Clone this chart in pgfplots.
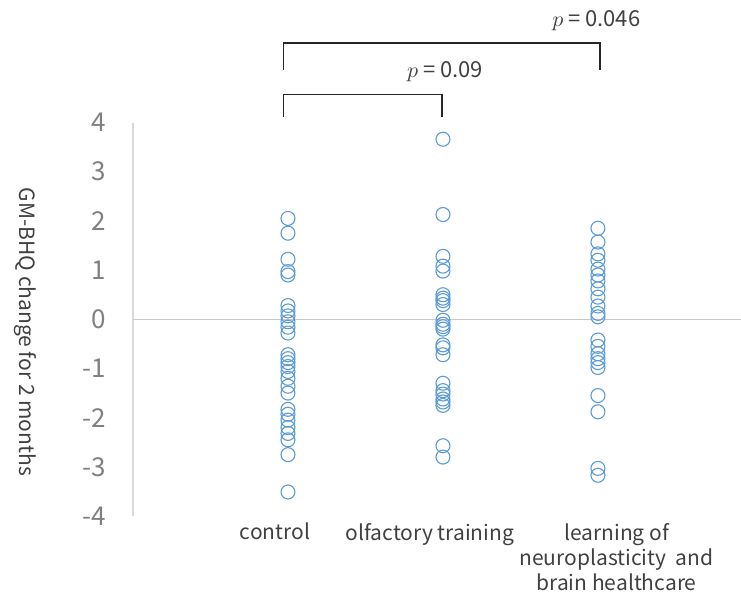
\documentclass[border=0pt]{standalone}
\usepackage{fontspec}
\setmainfont{Noto Sans CJK JP}
\usepackage{pgfplots}
\pgfplotsset{compat=1.18}
\definecolor{mk}{RGB}{91,155,213}
\definecolor{tx}{RGB}{64,64,64}
\definecolor{tk}{RGB}{128,128,128}
\definecolor{zl}{RGB}{200,200,200}
\definecolor{al}{RGB}{217,217,217}
\begin{document}
\begin{tikzpicture}
\begin{axis}[
  scale only axis, width=304pt, height=196.8pt,
  xmin=0, xmax=3.923, ymin=-4, ymax=4,
  axis lines=left,
  axis line style={-},
  x axis line style={draw=none},
  y axis line style={draw=al, line width=0.75pt},
  major tick length=0pt,
  ytick={-4,-3,-2,-1,0,1,2,3,4},
  xtick={0.916,1.916,3.12},
  xticklabels={\raisebox{-4pt}{control}, olfactory training, {learning of\\neuroplasticity\ \ and\\brain healthcare}},
  xticklabel style={font=\fontsize{10.5}{12.5}\selectfont, text=tx, align=center, anchor=north},
  yticklabel style={font=\fontsize{13}{13}\selectfont, text=tk, xshift=-10pt},
  /pgf/number format/assume math mode=true,
  ylabel={GM-BHQ change for 2 months},
  every axis y label/.style={at={(axis description cs:0,0.468)}, xshift=-54pt, rotate=-90, anchor=center, font=\fontsize{10.5}{12}\selectfont, text=tx},
  clip=false,
]
\addplot[zl, line width=0.75pt] coordinates {(0,0) (3.923,0)};
\addplot[only marks, mark=o, mark size=3.5pt, mk, mark options={line width=0.55pt}] coordinates {
(1,2.05)(1,1.75)(1,1.22)(1,0.97)(1,0.9)(1,0.28)(1,0.17)(1,0.07)(1,-0.05)(1,-0.16)(1,-0.28)
(1,-0.72)(1,-0.8)(1,-0.88)(1,-0.96)(1,-1.06)(1,-1.2)(1,-1.36)(1,-1.5)(1,-1.83)(1,-1.93)
(1,-2.05)(1,-2.2)(1,-2.32)(1,-2.45)(1,-2.75)(1,-3.51)};
\addplot[only marks, mark=o, mark size=3.5pt, mk, mark options={line width=0.55pt}] coordinates {
(2,3.66)(2,2.13)(2,1.28)(2,1.08)(2,0.98)(2,0.5)(2,0.43)(2,0.38)(2,0.3)(2,-0.02)(2,-0.1)
(2,-0.15)(2,-0.2)(2,-0.52)(2,-0.58)(2,-0.72)(2,-1.3)(2,-1.45)(2,-1.52)(2,-1.62)(2,-1.68)
(2,-1.75)(2,-2.57)(2,-2.8)};
\addplot[only marks, mark=o, mark size=3.5pt, mk, mark options={line width=0.55pt}] coordinates {
(3,1.85)(3,1.57)(3,1.33)(3,1.2)(3,1.02)(3,0.9)(3,0.78)(3,0.62)(3,0.45)(3,0.27)(3,0.12)
(3,0.05)(3,-0.42)(3,-0.55)(3,-0.7)(3,-0.8)(3,-0.88)(3,-0.98)(3,-1.55)(3,-1.88)(3,-3.03)(3,-3.17)};
\addplot[black!85, line width=0.75pt] coordinates {(0.97,4.12)(0.97,4.57)(1.995,4.57)(1.995,4.12)};
\addplot[black!85, line width=0.75pt] coordinates {(0.97,5.07)(0.97,5.62)(3.013,5.62)(3.013,5.07)};
\node[text=tx, font=\fontsize{11}{11}\selectfont] at (axis cs:2.013,5.03) {$p$ = 0.09};
\node[text=tx, font=\fontsize{11}{11}\selectfont] at (axis cs:2.99,6.08) {$p$ = 0.046};
\coordinate (bbl) at (axis cs:-0.858,-5.665);
\coordinate (btr) at (axis cs:3.923,6.49);
\end{axis}
\pgfresetboundingbox
\path[use as bounding box] (bbl) rectangle (btr);
\end{tikzpicture}
\end{document}
